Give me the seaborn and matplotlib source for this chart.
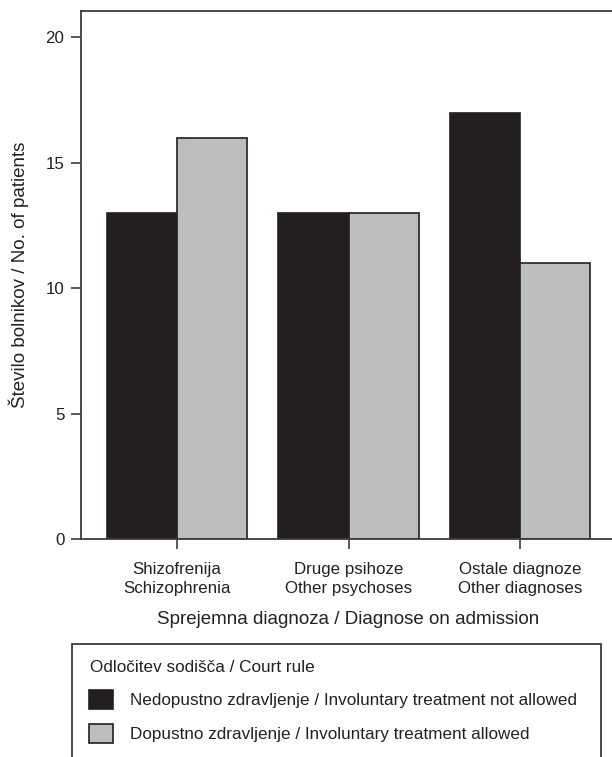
import matplotlib
matplotlib.use("Agg")
import matplotlib.pyplot as plt
import seaborn as sns
import pandas as pd
from matplotlib.patches import Rectangle

# data
categories = ["Shizofrenija\nSchizophrenia", "Druge psihoze\nOther psychoses", "Ostale diagnoze\nOther diagnoses"]
not_allowed = [13, 13, 17]
allowed = [16, 13, 11]
series_names = ["Nedopustno zdravljenje / Involuntary treatment not allowed",
                "Dopustno zdravljenje / Involuntary treatment allowed"]
legend_title = "Odločitev sodišča / Court rule"
y_ticks = [0, 5, 10, 15, 20]

df = pd.DataFrame({
    "diagnoza": categories * 2,
    "n": not_allowed + allowed,
    "odlocitev": [series_names[0]] * 3 + [series_names[1]] * 3,
})

sns.set_style("ticks")
plt.rcParams["font.family"] = ["Liberation Sans", "DejaVu Sans"]
INK = "#231f20"
SPINE = "#3c3c3c"
TXT = "#222222"

fig = plt.figure(figsize=(6.12, 7.57), dpi=100)
W, H = 612, 757
# axes placed in pixel terms: left 81, top 11, bottom 539, right beyond crop
left, right, top, bottom = 81, 616, 11, 539
ax = fig.add_axes([left / W, 1 - bottom / H, (right - left) / W, (bottom - top) / H])

sns.barplot(data=df, x="diagnoza", y="n", hue="odlocitev", hue_order=series_names,
            palette=[INK, "#bcbec0"], width=0.815, edgecolor=INK, linewidth=1.2,
            saturation=1, ax=ax)

ax.set_xlim(-0.557, 2.557)
ax.set_ylim(0, 21.05)
ax.set_yticks(y_ticks)
for s in ax.spines.values():
    s.set_color(SPINE)
    s.set_linewidth(1.3)
ax.tick_params(axis="both", direction="out", color=SPINE, width=1.2,
               labelsize=12.2, labelcolor=TXT)
ax.tick_params(axis="y", length=7, pad=5)
ax.tick_params(axis="x", length=7.5, pad=9)
ax.set_xlabel("Sprejemna diagnoza / Diagnose on admission", fontsize=13.5,
              color=TXT, labelpad=11)
ax.set_ylabel("Število bolnikov / No. of patients", fontsize=13.5,
              color=TXT, labelpad=12)
for lbl in ax.get_xticklabels():
    lbl.set_linespacing(1.3)

handles, labels = ax.get_legend_handles_labels()
ax.get_legend().remove()

# legend frame (runs off the bottom of the picture like the original)
fig.patches.append(Rectangle((72 / W, -0.05), (601 - 72) / W, 1 - 644 / H + 0.05,
                             transform=fig.transFigure, fill=False,
                             edgecolor=SPINE, linewidth=1.3))
fig.text(90 / W, 1 - 667 / H, legend_title, fontsize=12.3, color=TXT,
         ha="left", va="center")
leg = fig.legend(handles, labels, loc="upper left",
                 bbox_to_anchor=(89 / W, 1 - 690 / H),
                 frameon=False, fontsize=12.3,
                 handlelength=1.4, handleheight=1.35,
                 handletextpad=1.0, labelspacing=0.85, borderpad=0,
                 borderaxespad=0)
for t in leg.get_texts():
    t.set_color(TXT)

fig.savefig("out.png", dpi=100)
